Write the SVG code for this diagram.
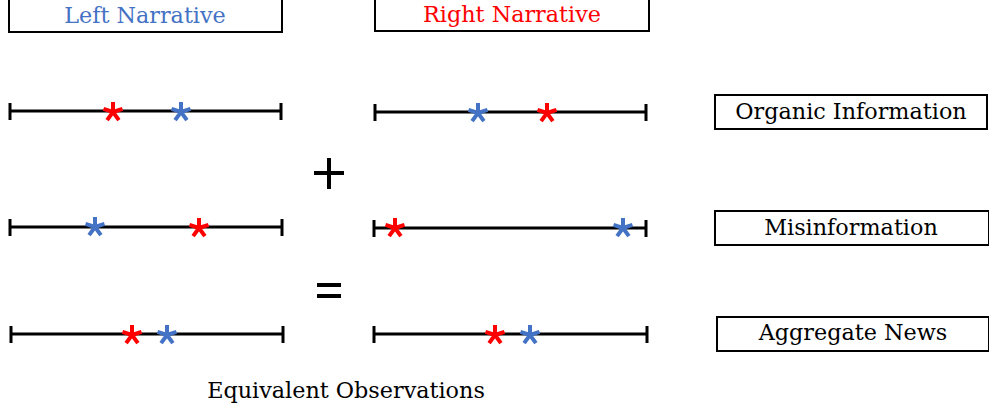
<svg xmlns="http://www.w3.org/2000/svg" width="989" height="408" viewBox="0 0 989 408">
<style>
.box{fill:#fff;stroke:#000;stroke-width:2}
.t{font-family:"DejaVu Serif","Liberation Serif",serif;font-size:22.3px;text-anchor:middle;fill:#000}
.axis{stroke:#000;stroke-width:3;fill:none}
.red{stroke:#ff0000}
.blue{stroke:#4472c4}
.op{stroke:#000;stroke-width:4;fill:none}
</style>
<defs>
<g id="star" fill="none" stroke-width="4" stroke-linecap="butt">
<path d="M0,0 L0,-10 M0,0 L9.5,-3.1 M0,0 L5.9,8.1 M0,0 L-5.9,8.1 M0,0 L-9.5,-3.1"/>
</g>
</defs>
<g id="header-left">
<rect class="box" x="9" y="-1" width="273" height="33"/>
<text class="t" x="145" y="23" style="fill:#4472c4">Left Narrative</text>
</g>
<g id="header-right">
<rect class="box" x="375" y="-1" width="274" height="32"/>
<text class="t" x="512" y="22" style="fill:#ff0000">Right Narrative</text>
</g>
<g id="label-organic">
<rect class="box" x="715" y="95" width="272" height="34"/>
<text class="t" x="851" y="119">Organic Information</text>
</g>
<g id="label-misinfo">
<rect class="box" x="715" y="211" width="274" height="34"/>
<text class="t" x="851" y="235">Misinformation</text>
</g>
<g id="label-aggregate">
<rect class="box" x="717" y="317" width="272" height="34"/>
<text class="t" x="853" y="340">Aggregate News</text>
</g>
<g id="row1-left">
<path class="axis" d="M10,111 H281 M10,103 V120 M281,103 V120"/>
<use href="#star" x="113" y="112" class="red"/>
<use href="#star" x="181" y="112" class="blue"/>
</g>
<g id="row1-right">
<path class="axis" d="M375,112 H646 M375,104 V121 M646,104 V121"/>
<use href="#star" x="478" y="113" class="blue"/>
<use href="#star" x="547" y="113" class="red"/>
</g>
<g id="row2-left">
<path class="axis" d="M10,227 H282 M10,219 V236 M282,219 V236"/>
<use href="#star" x="95" y="227" class="blue"/>
<use href="#star" x="199" y="228" class="red"/>
</g>
<g id="row2-right">
<path class="axis" d="M374,228 H646 M374,220 V237 M646,220 V237"/>
<use href="#star" x="395" y="228" class="red"/>
<use href="#star" x="623" y="228" class="blue"/>
</g>
<g id="row3-left">
<path class="axis" d="M11,334 H283 M11,326 V343 M283,326 V343"/>
<use href="#star" x="132" y="335" class="red"/>
<use href="#star" x="167" y="335" class="blue"/>
</g>
<g id="row3-right">
<path class="axis" d="M374,334 H647 M374,326 V343 M647,326 V343"/>
<use href="#star" x="495" y="335" class="red"/>
<use href="#star" x="530" y="335" class="blue"/>
</g>
<g id="operators">
<path class="op" d="M314,173 H344 M329,158 V189"/>
<path class="op" d="M317,285 H341 M317,296 H341"/>
</g>
<g id="caption">
<text class="t" x="346" y="398">Equivalent Observations</text>
</g>
</svg>
